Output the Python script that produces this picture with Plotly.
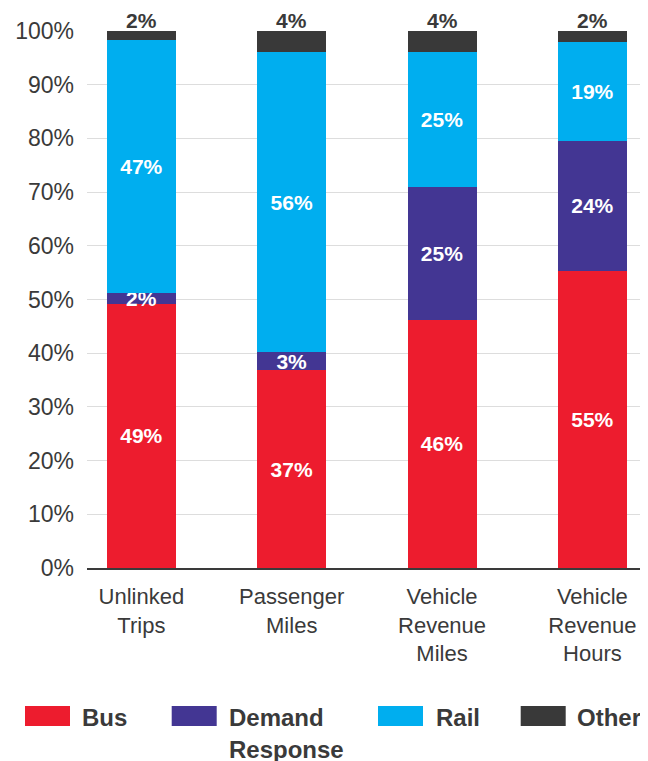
import plotly.graph_objects as go

categories = ["Unlinked<br>Trips", "Passenger<br>Miles", "Vehicle<br>Revenue<br>Miles", "Vehicle<br>Revenue<br>Hours"]
bus = [49.2, 36.8, 46.2, 55.4]
demand_response = [2.0, 3.4, 24.8, 24.1]
rail = [47.1, 55.9, 25.1, 18.4]
other = [1.7, 3.9, 3.9, 2.1]
bus_labels = ["49%", "37%", "46%", "55%"]
dr_labels = ["2%", "3%", "25%", "24%"]
rail_labels = ["47%", "56%", "25%", "19%"]
other_labels = ["2%", "4%", "4%", "2%"]
series_names = ["Bus", "Demand<br>Response", "Rail", "Other"]
colors = ["#ED1C2E", "#433693", "#00AEEF", "#393939"]

FONT = "Liberation Sans"
OFF = 8  # page body margin
W, H = 648 - OFF, 761 - OFF
L, R, T, B = 87 - OFF, 0, 31 - OFF, 192.5

fig = go.Figure()
for vals, labels, name, col in [
    (bus, bus_labels, series_names[0], colors[0]),
    (demand_response, dr_labels, series_names[1], colors[1]),
    (rail, rail_labels, series_names[2], colors[2]),
]:
    fig.add_trace(go.Bar(
        x=categories, y=vals, name=name, marker=dict(color=col, line=dict(width=0)),
        text=labels, textposition="inside", insidetextanchor="middle",
        textfont=dict(family=FONT, size=21, color="white", weight="bold"),
        constraintext="none", width=0.459, hoverinfo="skip",
    ))
fig.add_trace(go.Bar(
    x=categories, y=other, name=series_names[3], marker=dict(color=colors[3], line=dict(width=0)),
    width=0.459, hoverinfo="skip",
))

totals = [round(b + d + r + o, 6) for b, d, r, o in zip(bus, demand_response, rail, other)]

pw = W - L - R
ph = H - T - B

def px(x):
    return (x - OFF - L) / pw

def py(y):
    return (H - B - (y - OFF)) / ph

shapes = []
annotations = []
for cat, tot, lab in zip(categories, totals, other_labels):
    annotations.append(dict(x=cat, y=tot, xref="x", yref="y", text=lab, showarrow=False,
                            yanchor="bottom", yshift=-3,
                            font=dict(family=FONT, size=21, color="#3a3a3a", weight="bold")))

legend_items = [
    (25, 70, 81.7, colors[0], "Bus"),
    (171.7, 216.7, 229.3, colors[1], "Demand<br>Response"),
    (378, 423, 435.7, colors[2], "Rail"),
    (520.7, 565.7, 577.3, colors[3], "Other"),
]
for x0, x1, tx, col, name in legend_items:
    shapes.append(dict(type="rect", xref="paper", yref="paper",
                       x0=px(x0), x1=px(x1), y0=py(726.7), y1=py(706.7),
                       fillcolor=col, line=dict(width=0)))
    for i, line in enumerate(name.split("<br>")):
        annotations.append(dict(xref="paper", yref="paper", x=px(tx - 2), y=py(717.7 + 32 * i),
                                xanchor="left", yanchor="middle", align="left",
                                text=line, showarrow=False,
                                font=dict(family=FONT, size=24, color="#3a3a3a", weight="bold")))

fig.update_layout(
    width=W, height=H,
    margin=dict(l=L, r=R, t=T, b=B),
    barmode="stack",
    showlegend=False,
    plot_bgcolor="white", paper_bgcolor="white",
    uniformtext=dict(minsize=21, mode="show"),
    shapes=shapes, annotations=annotations,
    font=dict(family=FONT, color="#3a3a3a"),
)
fig.update_xaxes(
    range=[-0.3617, 3.370], showline=True, linecolor="#3a3a3a", linewidth=1.5,
    ticks="", tickfont=dict(family=FONT, size=22, color="#3a3a3a"),
    ticklabelstandoff=8, showgrid=False,
)
fig.update_yaxes(
    range=[0, 100], dtick=10, ticksuffix="%", showgrid=True, gridcolor="#dddddd",
    gridwidth=1.2, zeroline=False, ticks="",
    tickfont=dict(family=FONT, size=23, color="#3a3a3a"), ticklabelstandoff=12,
)
fig.write_html("out.html")
